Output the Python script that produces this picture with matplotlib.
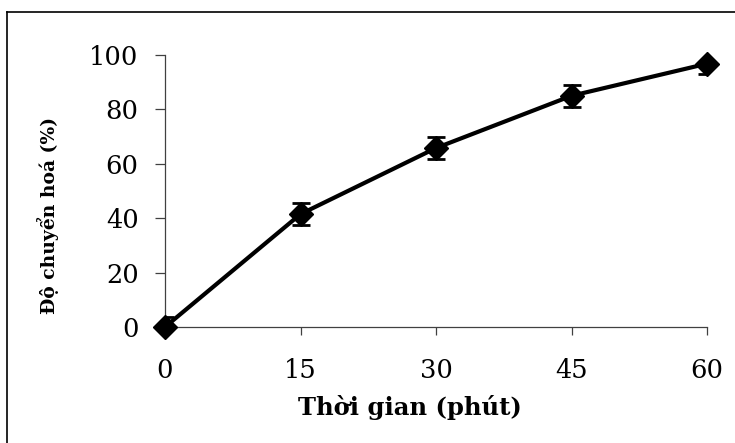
import matplotlib.pyplot as plt
from matplotlib.lines import Line2D

# data
time_min = [0, 15, 30, 45, 60]
conversion = [0.0, 41.5, 65.8, 85.0, 96.8]
err = [3.8, 4.0, 4.2, 4.0, 3.9]

W, H = 735, 443
fig = plt.figure(figsize=(W / 100, H / 100), dpi=100)
ax = fig.add_axes([165 / W, 1 - 327 / H, (707 - 165) / W, (327 - 55) / H])

# error bars clipped to the axes, line + markers allowed to overflow
ax.errorbar(time_min, conversion, yerr=err, fmt="none", ecolor="black",
            elinewidth=1.5, capsize=6.5, capthick=2, zorder=2)
ax.plot(time_min, conversion, color="black", lw=3, marker="D", ms=12.5,
        clip_on=False, zorder=3)

ax.set_xlim(0, 60)
ax.set_ylim(0, 100)
ax.set_xticks(time_min)
ax.set_yticks([0, 20, 40, 60, 80, 100])

for s in ["top", "right"]:
    ax.spines[s].set_visible(False)
for s in ["left", "bottom"]:
    ax.spines[s].set_color("#404040")
    ax.spines[s].set_linewidth(0.9)

ax.tick_params(axis="y", direction="out", length=7, width=0.9, color="#404040",
               pad=12, labelsize=18.5)
ax.tick_params(axis="x", direction="out", length=6, width=0.9, color="#404040",
               pad=16, labelsize=18.5)
for lbl in ax.get_xticklabels() + ax.get_yticklabels():
    lbl.set_family("DejaVu Serif")

fig.text(410 / W, 1 - 408 / H, "Thời gian (phút)", family="DejaVu Serif",
         weight="bold", fontsize=17.5, ha="center", va="center")
fig.text(48 / W, 1 - 215 / H, "Độ chuyển hoá (%)", family="DejaVu Serif",
         weight="bold", fontsize=13.5, ha="center", va="center", rotation=90)

# outer frame (only top and left visible in the reference crop)
fig.add_artist(Line2D([7 / W, 1.0], [1 - 12 / H, 1 - 12 / H], color="black", lw=1.2))
fig.add_artist(Line2D([7 / W, 7 / W], [0.0, 1 - 12 / H], color="black", lw=1.2))

fig.savefig("out.png", dpi=100)
